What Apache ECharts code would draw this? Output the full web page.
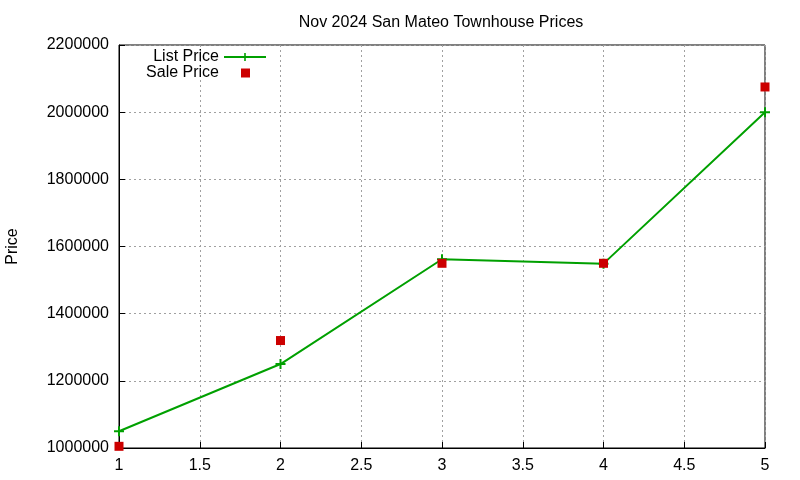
<!DOCTYPE html>
<html>
<head>
<meta charset="utf-8">
<script src="https://cdn.jsdelivr.net/npm/echarts@6/dist/echarts.min.js"></script>
<style>
  html, body { margin: 0; padding: 0; background: #fff; }
  #chart { width: 800px; height: 480px; }
</style>
</head>
<body>
<div id="chart"></div>
<script>
// values
const homes = [1, 2, 3, 4, 5];
const listPrices = [1050000, 1250000, 1562000, 1549000, 2000000];
const salePrices = [1005000, 1320000, 1550000, 1550000, 2075000];

const xTicks = { min: 1, max: 5, step: 0.5 };
const yTicks = { min: 1000000, max: 2200000, step: 200000 };

const FONT = 'Liberation Sans, Arial, sans-serif';
const plus = 'path://M4,0h2v4h4v2h-4v4h-2v-4h-4v-2h4z';

const chart = echarts.init(document.getElementById('chart'));

const axisText = { color: '#000', fontFamily: FONT, fontSize: 16 };
const legendText = { color: '#000', fontFamily: FONT, fontSize: 16 };

chart.setOption({
  animation: false,
  title: {
    text: 'Nov 2024 San Mateo Townhouse Prices',
    left: 436, top: 10, textAlign: 'center',
    textStyle: { color: '#000', fontFamily: FONT, fontSize: 16, fontWeight: 'normal' }
  },
  legend: [
    {
      data: ['List Price'], right: 528, top: 44, orient: 'vertical', align: 'right',
      itemWidth: 42, itemHeight: 10,
      textStyle: legendText
    },
    {
      data: [{ name: 'Sale Price', icon: 'rect' }], right: 545, top: 60, orient: 'vertical', align: 'right',
      itemWidth: 9, itemHeight: 9,
      textStyle: Object.assign({ padding: [0, 17, 0, 0] }, legendText)
    }
  ],
  grid: {
    left: 119, right: 35, top: 45, bottom: 32,
    outerBoundsMode: 'none', containLabel: false,
    show: true, borderColor: '#000', borderWidth: 1
  },
  xAxis: {
    type: 'value', min: xTicks.min, max: xTicks.max, interval: xTicks.step,
    axisLine: { show: true, lineStyle: { color: '#000' } },
    axisTick: { inside: true, length: 6, lineStyle: { color: '#000' } },
    axisLabel: Object.assign({ margin: 10 }, axisText),
    splitLine: { show: true, lineStyle: { color: '#a0a0a0', type: [2, 3] } }
  },
  yAxis: {
    type: 'value', min: yTicks.min, max: yTicks.max, interval: yTicks.step,
    name: 'Price', nameLocation: 'middle', nameGap: 98, nameRotate: 90,
    nameTextStyle: { color: '#000', fontFamily: FONT, fontSize: 16 },
    axisLine: { show: true, lineStyle: { color: '#000' } },
    axisTick: { inside: true, length: 6, lineStyle: { color: '#000' } },
    axisLabel: Object.assign({ margin: 10, formatter: v => String(v) }, axisText),
    splitLine: { show: true, lineStyle: { color: '#a0a0a0', type: [2, 3] } }
  },
  series: [
    {
      name: 'List Price', type: 'line',
      data: homes.map((h, i) => [h, listPrices[i]]),
      symbol: plus, symbolSize: 10, showAllSymbol: true,
      lineStyle: { color: '#00a000', width: 2 },
      itemStyle: { color: '#00a000' },
      z: 2
    },
    {
      name: 'Sale Price', type: 'scatter',
      data: homes.map((h, i) => [h, salePrices[i]]),
      symbol: 'rect', symbolSize: 9,
      itemStyle: { color: '#cc0000', opacity: 1 },
      z: 3
    }
  ]
});
</script>
</body>
</html>
